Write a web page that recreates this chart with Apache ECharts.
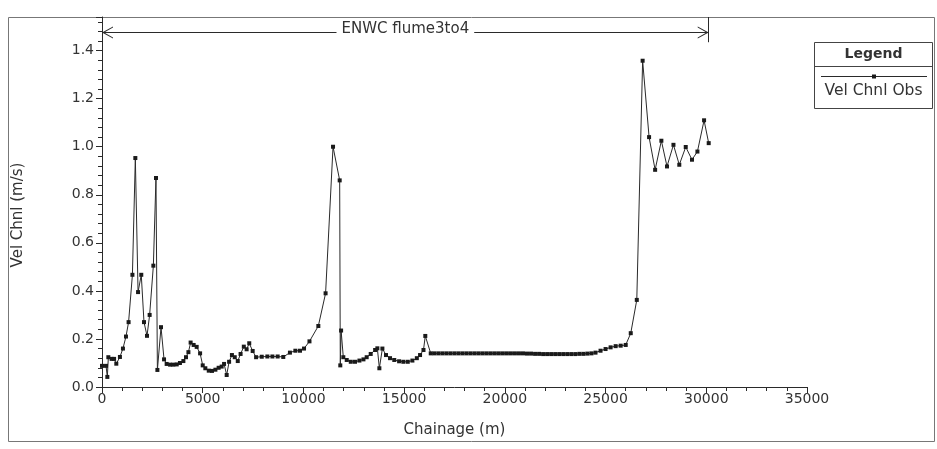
<!DOCTYPE html>
<html>
<head>
<meta charset="utf-8">
<script src="https://cdn.jsdelivr.net/npm/echarts@6/dist/echarts.min.js"></script>
<style>
  html, body { margin: 0; padding: 0; background: #ffffff; }
  #chart { width: 937px; height: 449px; }
</style>
</head>
<body>
<div id="chart"></div>
<script>
// Observed channel velocity along the ENWC flume reach
const chainage = [
  0, 200, 265, 315, 480, 600, 710, 890, 1040, 1190, 1320, 1510, 1655, 1790, 1950,
  2085, 2235, 2365, 2550, 2680, 2750, 2930, 3080, 3210, 3380, 3540, 3710, 3870,
  4040, 4170, 4290, 4400, 4550, 4700, 4870, 5000, 5130, 5300, 5460, 5630, 5790,
  5940, 6060, 6190, 6310, 6450, 6590, 6740, 6880, 7040, 7180, 7310, 7480, 7650,
  7930, 8210, 8460, 8720, 9000, 9330, 9600, 9830, 10030, 10300, 10740, 11100,
  11470, 11800, 11830, 11870, 11980, 12150, 12350, 12560, 12780, 12980, 13140,
  13340, 13560, 13670, 13770, 13920, 14100, 14300, 14510, 14750, 14960, 15180,
  15410, 15630, 15790, 15960, 16050, 16320,
  16500, 16700, 16900, 17100, 17300, 17500, 17700, 17900, 18100, 18300,
  18500, 18700, 18900, 19100, 19300, 19500, 19700, 19900, 20100, 20300,
  20500, 20700, 20900, 21100, 21300, 21500, 21700, 21900, 22100, 22300,
  22500, 22700, 22900, 23100, 23300, 23500, 23700, 23900, 24100, 24300,
  24500, 24750, 25000, 25250, 25500, 25750, 26000, 26250, 26550, 26840,
  27160, 27460, 27770, 28050, 28370, 28660, 28980, 29290, 29560, 29890, 30120
];
const velChnlObs = [
  0.088, 0.088, 0.042, 0.124, 0.117, 0.117, 0.097, 0.125, 0.16, 0.21, 0.27, 0.467, 0.953, 0.395, 0.467,
  0.27, 0.213, 0.30, 0.505, 0.87, 0.071, 0.249, 0.115, 0.096, 0.093, 0.093, 0.094, 0.10,
  0.108, 0.124, 0.145, 0.185, 0.175, 0.167, 0.14, 0.09, 0.078, 0.068, 0.067, 0.072, 0.08,
  0.085, 0.096, 0.05, 0.105, 0.133, 0.124, 0.108, 0.1375, 0.168, 0.157, 0.182, 0.15, 0.124,
  0.126, 0.127, 0.127, 0.127, 0.125, 0.143, 0.151, 0.151, 0.16, 0.19, 0.254, 0.39,
  1.00, 0.86, 0.09, 0.235, 0.124, 0.1125, 0.105, 0.105, 0.11, 0.115, 0.124,
  0.1375, 0.154, 0.161, 0.078, 0.16, 0.133, 0.12, 0.1125, 0.107, 0.105, 0.105,
  0.11, 0.12, 0.133, 0.154, 0.2125, 0.14,
  0.14, 0.14, 0.14, 0.14, 0.14, 0.14, 0.14, 0.14, 0.14, 0.14,
  0.14, 0.14, 0.14, 0.14, 0.14, 0.14, 0.14, 0.14, 0.14, 0.14,
  0.14, 0.14, 0.14, 0.139, 0.139, 0.138, 0.138, 0.137, 0.137, 0.137,
  0.137, 0.137, 0.137, 0.137, 0.137, 0.137, 0.138, 0.138, 0.139, 0.14,
  0.143, 0.151, 0.158, 0.165, 0.17, 0.172, 0.175, 0.224, 0.3625, 1.358,
  1.04, 0.904, 1.025, 0.918, 1.008, 0.925, 0.999, 0.946, 0.98, 1.11, 1.015
];

// Reach annotation: start / end chainage and label
const reachName = 'ENWC flume3to4';
const reachStart = 0;
const reachEnd = 30120;
const reachLevel = 1.475;

const xTicks = { min: 0, max: 35000, interval: 5000 };
const yTicks = { min: 0, max: 1.54, interval: 0.2 };

const FONT = 'DejaVu Sans, Liberation Sans, Arial, sans-serif';
const INK = '#2a2a2a';
const TEXT = '#333333';

const chart = echarts.init(document.getElementById('chart'), null, { renderer: 'canvas' });

const points = chainage.map((c, i) => [c, velChnlObs[i]]);

// thin open chevron for the reach arrow heads; the zero-area segment above
// the tip balances the box so the tip lands exactly on the end point
const chevron = 'path://M0,-11 L0.01,-11 L0,-11 Z M0,0 L6,11 L5,11 L0,2.2 L-5,11 L-6,11 Z';

chart.setOption({
  animation: false,
  backgroundColor: '#ffffff',
  textStyle: { fontFamily: FONT },
  grid: { left: 102, right: 130, top: 17, bottom: 62, containLabel: false },
  xAxis: {
    type: 'value',
    min: xTicks.min, max: xTicks.max, interval: xTicks.interval,
    name: 'Chainage (m)',
    nameLocation: 'middle',
    nameGap: 36,
    nameTextStyle: { color: TEXT, fontSize: 15, fontFamily: FONT },
    axisLine: { show: true, onZero: false, lineStyle: { color: INK, width: 1 } },
    axisTick: { show: true, length: 6, lineStyle: { color: INK } },
    minorTick: { show: true, splitNumber: 5, length: 4, lineStyle: { color: INK } },
    axisLabel: { color: TEXT, fontSize: 14, fontFamily: FONT, margin: 5,
      formatter: v => String(v) },
    splitLine: { show: false }
  },
  yAxis: {
    type: 'value',
    min: yTicks.min, max: yTicks.max, interval: yTicks.interval,
    axisLine: { show: true, onZero: false, lineStyle: { color: INK, width: 1 } },
    axisTick: { show: true, length: 6, lineStyle: { color: INK } },
    minorTick: { show: true, splitNumber: 5, length: 4, lineStyle: { color: INK } },
    axisLabel: { color: TEXT, fontSize: 14, fontFamily: FONT, margin: 8,
      showMaxLabel: false,
      formatter: v => (Math.abs(v / 0.2 - Math.round(v / 0.2)) < 1e-6 ? v.toFixed(1) : '') },
    splitLine: { show: false }
  },
  legend: { show: false },
  series: [{
    name: 'Vel Chnl Obs',
    type: 'line',
    data: points,
    showSymbol: true,
    symbol: 'rect',
    symbolSize: 4,
    itemStyle: { color: '#1a1a1a' },
    lineStyle: { color: '#2a2a2a', width: 1 },
    silent: true,
    markLine: {
      silent: true,
      animation: false,
      symbolSize: [12, 22],
      lineStyle: { color: INK, width: 1, type: 'solid' },
      label: { show: false },
      data: [
        [
          { coord: [reachStart, reachLevel], symbol: chevron },
          { coord: [reachEnd, reachLevel], symbol: chevron }
        ],
        [
          { coord: [reachEnd, yTicks.max], symbol: 'none' },
          { coord: [reachEnd, 1.435], symbol: 'none' }
        ],
        [
          { coord: [(reachStart + reachEnd) / 2, reachLevel], symbol: 'none',
            label: { show: true, position: 'start', formatter: reachName,
              color: TEXT, fontSize: 15, fontFamily: FONT,
              backgroundColor: '#ffffff', padding: [1, 5], distance: -5,
              offset: [0, -4] } },
          { coord: [(reachStart + reachEnd) / 2, reachLevel], symbol: 'none' }
        ]
      ]
    }
  }],
  graphic: [
    // outer frame
    { type: 'rect', shape: { x: 8.5, y: 17.5, width: 926, height: 424 },
      style: { fill: 'none', stroke: '#777', lineWidth: 1 }, z: -1 },
    // value axis title
    { type: 'text', x: 18, y: 215, rotation: Math.PI / 2,
      style: { text: 'Vel Chnl (m/s)', fontFamily: FONT, fontSize: 15,
        fill: TEXT, align: 'center', verticalAlign: 'middle' } },
    // legend box
    { type: 'rect', shape: { x: 814.5, y: 42.5, width: 118, height: 66 },
      style: { fill: '#ffffff', stroke: '#444', lineWidth: 1 } },
    { type: 'line', shape: { x1: 814.5, y1: 66.5, x2: 932.5, y2: 66.5 },
      style: { stroke: '#444', lineWidth: 1 } },
    { type: 'text', x: 873.5, y: 54.5,
      style: { text: 'Legend', fontFamily: FONT, fontSize: 14, fontWeight: 'bold',
        fill: TEXT, align: 'center', verticalAlign: 'middle' } },
    { type: 'line', shape: { x1: 821, y1: 76.5, x2: 927, y2: 76.5 },
      style: { stroke: '#2a2a2a', lineWidth: 1 } },
    { type: 'rect', shape: { x: 872, y: 74.5, width: 4, height: 4 },
      style: { fill: '#1a1a1a' } },
    { type: 'text', x: 873.5, y: 91,
      style: { text: 'Vel Chnl Obs', fontFamily: FONT, fontSize: 15.5,
        fill: TEXT, align: 'center', verticalAlign: 'middle' } }
  ]
});
</script>
</body>
</html>
